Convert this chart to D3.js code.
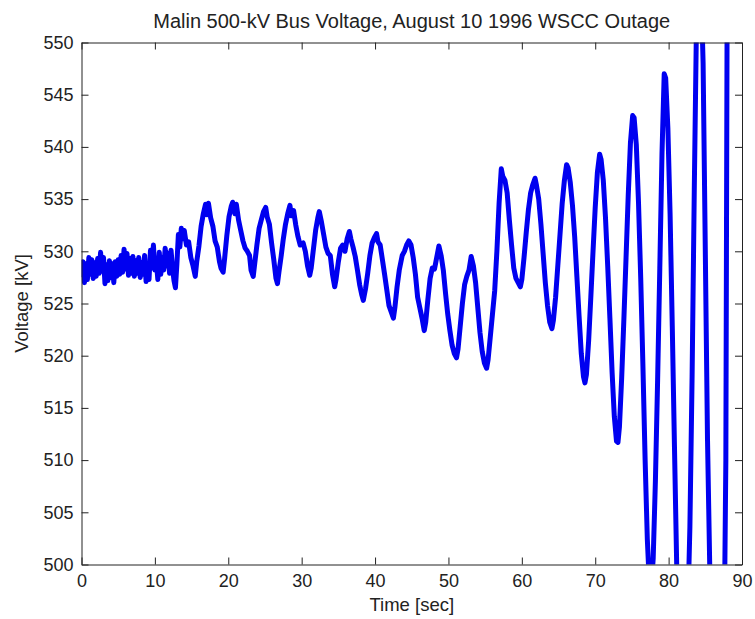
<!DOCTYPE html>
<html>
<head>
<meta charset="utf-8">
<title>Malin 500-kV Bus Voltage</title>
<script src="https://cdnjs.cloudflare.com/ajax/libs/d3/7.8.5/d3.min.js"></script>
<style>
body {
  margin: 0;
  background: #fff;
}
svg text {
  font-family: "Liberation Sans", Arial, sans-serif;
  fill: #222;
}
.axis path, .axis line {
  stroke: #222;
  stroke-width: 1px;
}
.axis text {
  font-size: 18px;
}
</style>
</head>
<body>
<div id="chart"></div>
<script>
// tick labels
var xTicks = [0, 10, 20, 30, 40, 50, 60, 70, 80, 90];
var yTicks = [500, 505, 510, 515, 520, 525, 530, 535, 540, 545, 550];

// [time sec, voltage kV]
// first 13 s: small noisy fluctuations around 528 kV
var quietTrace = [
  [0.0, 527.5], [0.2, 529.0], [0.4, 527.0], [0.6, 528.8], [0.8, 527.3], [1.0, 529.4],
  [1.2, 527.8], [1.4, 529.2], [1.6, 527.4], [1.8, 528.9], [2.0, 527.6], [2.2, 529.3],
  [2.4, 527.9], [2.6, 529.9], [2.8, 528.1], [3.0, 529.4], [3.2, 526.9], [3.4, 528.7],
  [3.6, 527.2], [3.8, 529.1], [4.0, 527.5], [4.2, 528.8], [4.4, 527.0], [4.6, 529.0],
  [4.8, 527.6], [5.0, 529.2], [5.2, 527.8], [5.4, 529.6], [5.6, 528.0], [5.8, 530.2],
  [6.0, 528.3], [6.2, 529.8], [6.4, 527.7], [6.6, 529.3], [6.8, 527.9], [7.0, 529.5],
  [7.2, 527.6], [7.4, 529.1], [7.6, 527.9], [7.8, 529.4], [8.0, 527.5], [8.2, 528.9],
  [8.4, 527.8], [8.6, 529.6], [8.8, 527.1], [9.0, 528.6], [9.2, 527.3], [9.4, 530.1],
  [9.6, 528.4], [9.8, 530.6], [10.0, 528.2], [10.2, 529.0], [10.4, 527.3], [10.6, 529.9],
  [10.8, 527.8], [11.0, 529.4], [11.2, 528.2], [11.4, 530.3], [11.6, 528.6], [11.8, 529.8],
  [12.0, 527.9], [12.2, 530.1], [12.4, 528.4], [12.6, 527.2], [12.8, 526.5], [13.0, 528.8]
];

// 13-56 s: ~0.25 Hz swings, slowly growing
var swingTrace = [
  [13.2, 531.6], [13.4, 530.4], [13.6, 532.2], [13.8, 531.2], [14.0, 532.0], [14.3, 530.6],
  [14.6, 530.9], [14.9, 529.4], [15.2, 528.6], [15.5, 527.6], [15.7, 529.0], [16.0, 530.5],
  [16.3, 532.4], [16.6, 533.6], [16.9, 534.5], [17.1, 533.5], [17.3, 534.6], [17.6, 533.2],
  [17.9, 532.4], [18.2, 531.0], [18.5, 530.4], [18.8, 529.0], [19.0, 528.4], [19.3, 528.0],
  [19.5, 529.3], [19.8, 531.5], [20.1, 533.3], [20.4, 534.3], [20.6, 534.7], [20.9, 533.6],
  [21.1, 534.5], [21.4, 533.0], [21.7, 532.0], [22.0, 531.0], [22.3, 530.3], [22.6, 530.0],
  [22.9, 529.6], [23.1, 528.2], [23.4, 527.6], [23.6, 528.8], [23.9, 530.6], [24.2, 532.2],
  [24.5, 533.0], [24.8, 533.8], [25.1, 534.2], [25.3, 533.3], [25.6, 532.6], [25.9, 530.8],
  [26.2, 529.2], [26.5, 527.4], [26.7, 526.9], [26.9, 528.0], [27.2, 529.5], [27.5, 531.2],
  [27.8, 532.6], [28.1, 533.6], [28.4, 534.4], [28.6, 533.4], [28.9, 533.9], [29.2, 532.5],
  [29.5, 531.4], [29.8, 530.6], [30.2, 530.8], [30.5, 530.0], [30.8, 528.6], [31.1, 527.7],
  [31.3, 528.4], [31.6, 530.2], [31.9, 532.0], [32.2, 533.2], [32.4, 533.8], [32.7, 532.8],
  [33.0, 531.6], [33.3, 530.4], [33.6, 529.8], [33.9, 529.6], [34.2, 527.8], [34.5, 526.6],
  [34.7, 527.4], [35.0, 529.0], [35.3, 530.3], [35.6, 530.6], [35.9, 530.0], [36.2, 531.2],
  [36.5, 531.9], [36.7, 531.2], [37.0, 530.4], [37.3, 529.5], [37.6, 528.2], [37.9, 526.8],
  [38.2, 525.8], [38.4, 525.3], [38.7, 526.4], [39.0, 527.9], [39.3, 529.6], [39.6, 530.8],
  [39.9, 531.3], [40.2, 531.7], [40.4, 530.9], [40.7, 530.6], [41.0, 529.2], [41.3, 527.8],
  [41.6, 526.3], [41.9, 524.8], [42.2, 524.2], [42.5, 523.6], [42.7, 524.6], [43.0, 526.6],
  [43.3, 528.2], [43.7, 529.6], [44.0, 530.0], [44.3, 530.6], [44.6, 531.0], [44.9, 530.6],
  [45.2, 529.4], [45.5, 527.8], [45.8, 525.6], [46.1, 524.6], [46.4, 523.6], [46.7, 522.4],
  [46.9, 523.2], [47.2, 525.4], [47.5, 527.4], [47.8, 528.4], [48.1, 528.3], [48.4, 529.4],
  [48.7, 530.5], [49.0, 529.6], [49.3, 528.2], [49.6, 526.0], [49.9, 524.0], [50.2, 522.4],
  [50.5, 521.0], [50.8, 520.2], [51.1, 519.8], [51.3, 520.6], [51.6, 522.8], [51.9, 525.0],
  [52.2, 526.8], [52.5, 527.6], [52.8, 528.2], [53.1, 529.5], [53.4, 528.6], [53.7, 527.0],
  [54.0, 524.6], [54.3, 522.2], [54.6, 520.4], [54.9, 519.3], [55.2, 518.8], [55.4, 519.6],
  [55.7, 521.8], [56.0, 524.0], [56.3, 526.2]
];

// 56 s onward: undamped growth and collapse
var collapseTrace = [
  [56.6, 530.0], [56.9, 534.6], [57.2, 537.9], [57.4, 537.2], [57.7, 536.8], [58.0, 535.6],
  [58.3, 533.0], [58.6, 530.6], [58.9, 528.4], [59.2, 527.4], [59.5, 527.0], [59.8, 526.6],
  [60.0, 527.3], [60.3, 529.4], [60.6, 531.8], [60.9, 534.0], [61.2, 535.6], [61.5, 536.4],
  [61.8, 537.0], [62.0, 536.3], [62.3, 535.0], [62.6, 532.6], [62.9, 529.8], [63.2, 527.0],
  [63.5, 524.8], [63.8, 523.2], [64.1, 522.6], [64.3, 523.4], [64.6, 525.6], [64.9, 528.6],
  [65.2, 531.6], [65.5, 534.6], [65.8, 536.8], [66.1, 538.3], [66.3, 538.0], [66.6, 536.6],
  [66.9, 534.4], [67.2, 531.4], [67.5, 527.6], [67.8, 523.8], [68.1, 520.2], [68.4, 518.0],
  [68.6, 517.4], [68.8, 518.2], [69.1, 521.4], [69.4, 525.6], [69.7, 530.0], [70.0, 534.2],
  [70.3, 537.6], [70.6, 539.3], [70.8, 538.8], [71.1, 536.8], [71.4, 533.2], [71.7, 528.6],
  [72.0, 523.6], [72.3, 518.4], [72.6, 514.2], [72.9, 511.8], [73.1, 511.7], [73.3, 513.2],
  [73.6, 517.8], [73.9, 523.4], [74.2, 529.4], [74.5, 535.4], [74.8, 540.4], [75.1, 543.0],
  [75.3, 542.8], [75.6, 540.2], [75.9, 534.6], [76.2, 527.4], [76.5, 519.0], [76.8, 510.0],
  [77.1, 502.4], [77.4, 497.8], [77.6, 497.4], [77.9, 500.6], [78.2, 508.0], [78.5, 517.6],
  [78.8, 528.4], [79.1, 539.4], [79.4, 547.0], [79.6, 546.6], [79.9, 541.8], [80.2, 533.6],
  [80.5, 522.8], [80.8, 511.2], [81.1, 500.0], [81.4, 492.0], [81.7, 487.4], [82.0, 486.4],
  [82.3, 488.8], [82.6, 495.0], [82.9, 503.6], [83.2, 518.0], [83.5, 536.0], [83.8, 552.0],
  [84.1, 557.0], [84.4, 556.0], [84.7, 548.0], [85.0, 530.0], [85.3, 512.0], [85.6, 500.0],
  [85.9, 488.0], [86.2, 480.0], [86.5, 476.0], [86.8, 475.0], [87.1, 478.0], [87.5, 488.0],
  [87.8, 510.0], [88.0, 560.0]
];

var W = 755, H = 619;
var margin = {top: 42.5, right: 13, bottom: 54.5, left: 81.5};
var width = W - margin.left - margin.right,
    height = H - margin.top - margin.bottom;

var x = d3.scaleLinear().domain([0, 90]).range([0, width]);
var y = d3.scaleLinear().domain([500, 550]).range([height, 0]);

var svg = d3.select('#chart').append('svg')
    .attr('width', W)
    .attr('height', H);

var g = svg.append('g')
    .attr('transform', 'translate(' + margin.left + ',' + margin.top + ')');

g.append('clipPath')
    .attr('id', 'plotclip')
  .append('rect')
    .attr('width', width)
    .attr('height', height);

var trace = quietTrace.concat(swingTrace, collapseTrace);

var line = d3.line()
    .x(function(d) { return x(d[0]); })
    .y(function(d) { return y(d[1]); });

g.append('path')
    .datum(trace)
    .attr('clip-path', 'url(#plotclip)')
    .attr('fill', 'none')
    .attr('stroke', '#0000f0')
    .attr('stroke-width', 5)
    .attr('stroke-linejoin', 'round')
    .attr('d', line);

// MATLAB style box, ticks pointing inward
g.append('g')
    .attr('class', 'axis')
    .attr('transform', 'translate(0,' + height + ')')
    .call(d3.axisBottom(x).tickValues(xTicks).tickSize(-7).tickSizeOuter(0).tickPadding(10));

g.append('g')
    .attr('class', 'axis')
    .call(d3.axisLeft(y).tickValues(yTicks).tickSize(-7).tickSizeOuter(0).tickPadding(8));

g.append('g')
    .attr('class', 'axis')
    .call(d3.axisTop(x).tickValues(xTicks).tickSize(-7).tickSizeOuter(0).tickFormat(''));

g.append('g')
    .attr('class', 'axis')
    .attr('transform', 'translate(' + width + ',0)')
    .call(d3.axisRight(y).tickValues(yTicks).tickSize(-7).tickSizeOuter(0).tickFormat(''));

g.selectAll('.axis text')
    .style('font-family', '"Liberation Sans", Arial, sans-serif')
    .style('fill', '#222');

svg.append('text')
    .attr('x', margin.left + width / 2)
    .attr('y', 27.5)
    .attr('text-anchor', 'middle')
    .style('font-size', '20px')
    .text('Malin 500-kV Bus Voltage, August 10 1996 WSCC Outage');

svg.append('text')
    .attr('x', margin.left + width / 2)
    .attr('y', 611)
    .attr('text-anchor', 'middle')
    .style('font-size', '18.5px')
    .text('Time [sec]');

svg.append('text')
    .attr('transform', 'translate(28,' + (margin.top + height / 2) + ') rotate(-90)')
    .attr('text-anchor', 'middle')
    .style('font-size', '18.5px')
    .text('Voltage [kV]');
</script>
</body>
</html>
